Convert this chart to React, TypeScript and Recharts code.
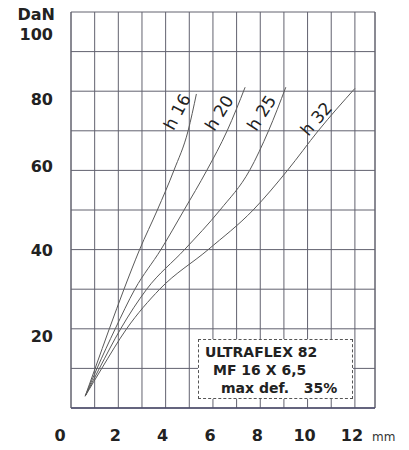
import { CartesianGrid, Line, LineChart, ReferenceLine, XAxis, YAxis } from "recharts";

// deflection (mm) read at each load step (DaN)
const loadSteps = [3, 10, 20, 30, 40, 50, 60, 70];

const h16Defl = [0.6, 1.02, 1.62, 2.24, 2.9, 3.65, 4.35, 4.95, 5.3];
const h16Load = [...loadSteps, 79.3];
const h20Defl = [0.6, 1.1, 1.87, 2.7, 3.8, 4.78, 5.74, 6.6, 7.36];
const h20Load = [...loadSteps, 81];
const h25Defl = [0.6, 1.2, 2.1, 3.2, 4.8, 6.3, 7.55, 8.35, 9.08];
const h25Load = [...loadSteps, 81];
const h32Defl = [0.6, 1.3, 2.35, 3.75, 5.8, 7.7, 9.15, 10.45, 12.0];
const h32Load = [...loadSteps, 80.7];

const seriesNames = ["h 16", "h 20", "h 25", "h 32"];

const xTicks = [0, 1, 2, 3, 4, 5, 6, 7, 8, 9, 10, 11, 12];
const xLabels = [0, 2, 4, 6, 8, 10, 12];
const yTicks = [0, 10, 20, 30, 40, 50, 60, 70, 80, 90, 100];
const yLabels = [20, 40, 60, 80, 100];
const xMax = 12.85;

const infoLines = ["ULTRAFLEX 82", "MF 16 X 6,5", "max def.   35%"];

const toPoints = (defl: number[], load: number[]) =>
  defl.map((x, i) => ({ x, y: load[i] }));

const curves = [
  toPoints(h16Defl, h16Load),
  toPoints(h20Defl, h20Load),
  toPoints(h25Defl, h25Load),
  toPoints(h32Defl, h32Load),
];

// label placement next to each curve (near the 70 DaN point)
const labelStyle = [
  { dx: -11, dy: -19, angle: -62 },
  { dx: -8, dy: -18, angle: -58 },
  { dx: -7, dy: -18, angle: -57 },
  { dx: -2, dy: -12, angle: -49 },
];
const labelIndex = 7;

const FONT = "DejaVu Sans";
const INK = "#222";
const GRID = "#62626f";

const yLabelShift: Record<number, number> = { 100: 22, 80: 8, 60: -4, 20: 7 };

const YTick = (props: any) => {
  const { x, y, payload } = props;
  if (!yLabels.includes(payload.value)) return null;
  const shift = yLabelShift[payload.value] ?? 0;
  return (
    <text x={x} y={y + shift} dy={6} textAnchor="end" fontFamily={FONT} fontWeight="bold" fontSize={16} fill={INK}>
      {payload.value}
    </text>
  );
};

const XTick = (props: any) => {
  const { x, y, payload } = props;
  if (!xLabels.includes(payload.value)) return null;
  const shift = payload.value === 0 ? -11 : -3;
  return (
    <text x={x + shift} y={y} dy={12} textAnchor="middle" fontFamily={FONT} fontWeight="bold" fontSize={16} fill={INK}>
      {payload.value}
    </text>
  );
};

const makeCurveLabel = (i: number) => (props: any) => {
  if (props.index !== labelIndex) return null;
  const px = props.x ?? props.viewBox?.x;
  const py = props.y ?? props.viewBox?.y;
  if (px == null || py == null) return null;
  const s = labelStyle[i];
  const cx = px + s.dx;
  const cy = py + s.dy;
  return (
    <text
      key={`lbl-${i}`}
      x={cx}
      y={cy}
      dy={6}
      textAnchor="middle"
      transform={`rotate(${s.angle} ${cx} ${cy})`}
      fontFamily={FONT}
      fontSize={17}
      fill={INK}
    >
      {seriesNames[i]}
    </text>
  );
};

export default function App() {
  return (
    <div style={{ position: "absolute", left: 0, top: 0, width: 409, height: 450, background: "#fff" }}>
      <LineChart width={409} height={450} margin={{ top: 12, right: 34, bottom: 12, left: 0 }}>
        <CartesianGrid stroke={GRID} strokeWidth={1} />
        <XAxis
          type="number"
          dataKey="x"
          domain={[0, xMax]}
          ticks={xTicks}
          interval={0}
          height={30}
          tickLine={false}
          tickSize={0}
          tickMargin={21}
          axisLine={{ stroke: "#4b4b6b", strokeWidth: 1.5 }}
          tick={<XTick />}
          label={{
            content: (p: any) => {
              const vb = p.viewBox ?? { x: 71, y: 408, width: 304, height: 30 };
              return (
                <text x={vb.x + vb.width - 3} y={vb.y + 33} fontFamily={FONT} fontSize={12} fill="#333">
                  mm
                </text>
              );
            },
          }}
        />
        <YAxis
          type="number"
          dataKey="y"
          domain={[0, 100]}
          ticks={yTicks}
          interval={0}
          width={71}
          tickLine={false}
          tickSize={0}
          tickMargin={18}
          axisLine={{ stroke: GRID }}
          tick={<YTick />}
          label={{
            content: (p: any) => {
              const vb = p.viewBox ?? { x: 0, y: 12, width: 71, height: 396 };
              return (
                <text x={vb.x + vb.width - 16} y={vb.y + 8} textAnchor="end" fontFamily={FONT} fontWeight="bold" fontSize={16} fill={INK}>
                  DaN
                </text>
              );
            },
          }}
        />
        <ReferenceLine x={xMax} stroke={GRID} />
        {curves.map((pts, i) => (
          <Line
            key={seriesNames[i]}
            data={pts}
            dataKey="y"
            type="monotone"
            stroke="#5a5a5a"
            strokeWidth={1}
            dot={false}
            activeDot={false}
            isAnimationActive={false}
            label={makeCurveLabel(i)}
          />
        ))}
      </LineChart>
      <div
        style={{
          position: "absolute",
          left: 198,
          top: 339,
          width: 155,
          height: 60,
          border: "1px dashed #555",
          background: "#fff",
          fontFamily: FONT,
          fontWeight: "bold",
          fontSize: 14,
          lineHeight: "18px",
          color: INK,
          paddingTop: 3,
          boxSizing: "border-box",
          whiteSpace: "pre",
        }}
      >
        {infoLines.map((t, i) => (
          <div key={t} style={{ paddingLeft: 6 + i * 8 }}>
            {t}
          </div>
        ))}
      </div>
    </div>
  );
}
